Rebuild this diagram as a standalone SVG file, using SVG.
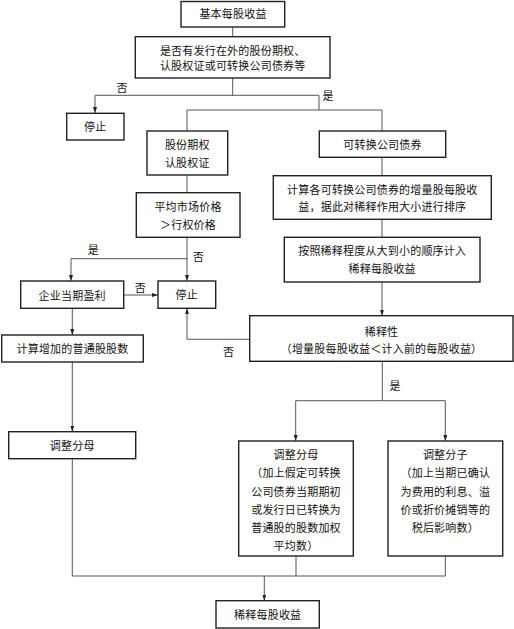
<svg xmlns="http://www.w3.org/2000/svg" width="514" height="629" viewBox="0 0 514 629">
<style>
.box{fill:#fff;stroke:#222;stroke-width:1.4}
.c{fill:none;stroke:#555;stroke-width:1}
text{font-family:"Noto Sans CJK SC","Noto Sans",sans-serif;font-size:11px;letter-spacing:0.2px;fill:#111;text-anchor:middle}
</style>
<defs>
<marker id="ah" markerUnits="userSpaceOnUse" markerWidth="6" markerHeight="4" refX="6" refY="2" orient="auto">
<path d="M0,0 L6,2 L0,4 z" fill="#222"/>
</marker>
</defs>
<rect width="514" height="629" fill="#fff"/>
<g id="connectors">
<path class="c" d="M232.7 27 V36.7"/>
<path class="c" d="M232.7 78 V95.3 M95 95.3 H319 V110 M187 110 H382 M187 110 V131 M382 110 V131"/>
<path class="c" d="M95 95.3 V113" marker-end="url(#ah)"/>
<path class="c" d="M187 175 V192.7"/>
<path class="c" d="M187 237.3 V281" marker-end="url(#ah)"/>
<path class="c" d="M187 258.7 H71 V281" marker-end="url(#ah)"/>
<path class="c" d="M123.7 295 H158" marker-end="url(#ah)"/>
<path class="c" d="M382 157.3 V175.7 M382 219.3 V237.3"/>
<path class="c" d="M382 282 V315.7" marker-end="url(#ah)"/>
<path class="c" d="M72.3 308.3 V335" marker-end="url(#ah)"/>
<path class="c" d="M72.3 362 V431.7" marker-end="url(#ah)"/>
<path class="c" d="M249.7 339.3 H187 V308.3" marker-end="url(#ah)"/>
<path class="c" d="M382.3 361.3 V400.7 M295.7 400.7 H445.3"/>
<path class="c" d="M295.7 400.7 V441" marker-end="url(#ah)"/>
<path class="c" d="M445.3 400.7 V441" marker-end="url(#ah)"/>
<path class="c" d="M72.3 458.7 V576 H445.3 M296 556 V576 M445.3 556 V576"/>
<path class="c" d="M264.3 576 V600.7" marker-end="url(#ah)"/>
<text x="122" y="92">否</text>
<text x="328" y="100">是</text>
<text x="93.3" y="254">是</text>
<text x="198.3" y="260.7">否</text>
<text x="140.3" y="292.3">否</text>
<text x="228.7" y="355.7">否</text>
<text x="395" y="390">是</text>
</g>
<g id="n1"><rect class="box" x="181" y="1.5" width="103.7" height="25.5"/><text x="233" y="18">基本每股收益</text></g>
<g id="n2"><rect class="box" x="135.3" y="36.7" width="194.7" height="41.3"/><text x="232.7" y="55">是否有发行在外的股份期权、</text><text x="232.7" y="70">认股权证或可转换公司债券等</text></g>
<g id="n3"><rect class="box" x="66.7" y="113.3" width="57.3" height="26.7"/><text x="95.3" y="131">停止</text></g>
<g id="n4"><rect class="box" x="147" y="131" width="80.7" height="44"/><text x="187.3" y="149">股份期权</text><text x="187.3" y="167.3">认股权证</text></g>
<g id="n5"><rect class="box" x="319.3" y="131" width="126.4" height="26.3"/><text x="382.5" y="149">可转换公司债券</text></g>
<g id="n6"><rect class="box" x="136.3" y="192.7" width="103.7" height="44.6"/><text x="188" y="211.3">平均市场价格</text><text x="188" y="229">＞行权价格</text></g>
<g id="n7"><rect class="box" x="273.3" y="175.7" width="218" height="43.6"/><text x="382.3" y="194">计算各可转换公司债券的增量股每股收</text><text x="382.3" y="211.3">益，据此对稀释作用大小进行排序</text></g>
<g id="n8"><rect class="box" x="284.3" y="237.3" width="195.7" height="44.7"/><text x="382.2" y="255">按照稀释程度从大到小的顺序计入</text><text x="382.2" y="272.7">稀释每股收益</text></g>
<g id="n9"><rect class="box" x="20.7" y="281" width="103" height="27.3"/><text x="72.2" y="299.5">企业当期盈利</text></g>
<g id="n10"><rect class="box" x="158" y="281" width="57.7" height="27.3"/><text x="186.8" y="299">停止</text></g>
<g id="n11"><rect class="box" x="1.7" y="335" width="141.6" height="27"/><text x="72.5" y="353">计算增加的普通股股数</text></g>
<g id="n12"><rect class="box" x="249.7" y="315.7" width="263.3" height="45.6"/><text x="381.5" y="335.7">稀释性</text><text x="381.5" y="353">（增量股每股收益＜计入前的每股收益）</text></g>
<g id="n13"><rect class="box" x="8.7" y="431.7" width="127" height="27"/><text x="72.2" y="449.7">调整分母</text></g>
<g id="n14"><rect class="box" x="238.7" y="441" width="114.6" height="115"/><text x="296" y="459">调整分母</text><text x="296" y="477.3">（加上假定可转换</text><text x="296" y="495.7">公司债券当期期初</text><text x="296" y="514">或发行日已转换为</text><text x="296" y="531.7">普通股的股数加权</text><text x="296" y="550">平均数）</text></g>
<g id="n15"><rect class="box" x="388" y="441" width="114.7" height="115"/><text x="445.3" y="459">调整分子</text><text x="445.3" y="477.3">（加上当期已确认</text><text x="445.3" y="495.7">为费用的利息、溢</text><text x="445.3" y="514">价或折价摊销等的</text><text x="445.3" y="531.7">税后影响数）</text></g>
<g id="n16"><rect class="box" x="216" y="600.7" width="103.3" height="27.3"/><text x="267.7" y="619">稀释每股收益</text></g>
</svg>
